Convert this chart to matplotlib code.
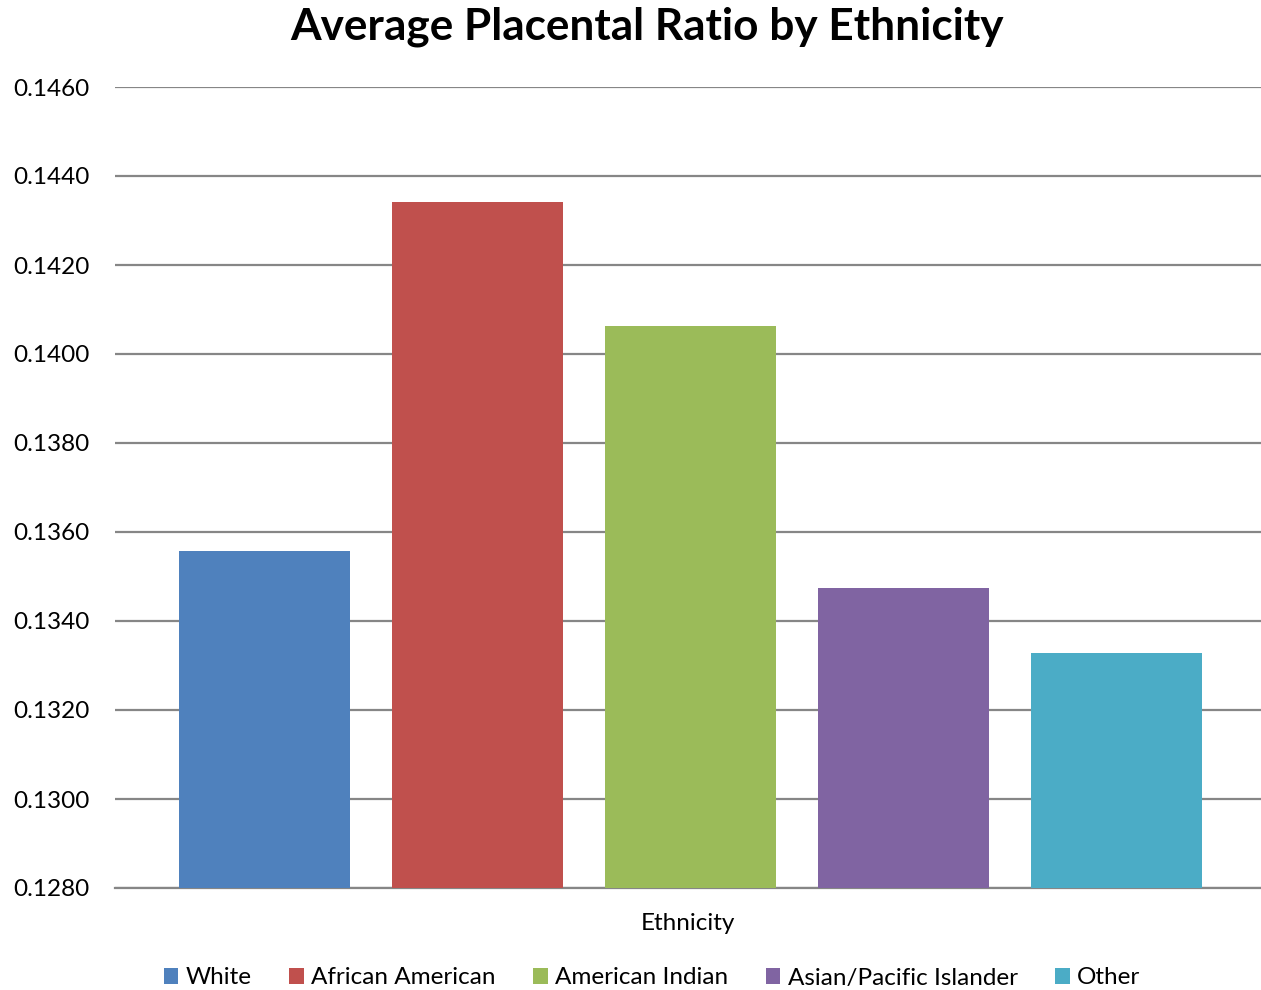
import matplotlib.pyplot as plt
from matplotlib.patches import Patch

plt.rcParams['font.family'] = ['Lato', 'DejaVu Sans']

# average placental ratio per ethnic group
groups = ['White', 'African American', 'American Indian', 'Asian/Pacific Islander', 'Other']
ratios = [0.13557, 0.14342, 0.14063, 0.13474, 0.13328]
colors = ['#4F81BD', '#C0504D', '#9BBB59', '#8064A2', '#4BACC6']
yticks = [0.128, 0.130, 0.132, 0.134, 0.136, 0.138, 0.140, 0.142, 0.144, 0.146]

fig = plt.figure(figsize=(12.61, 9.90), dpi=100)
ax = fig.add_axes([115 / 1261, 102 / 990, 1146 / 1261, 801 / 990])

x = list(range(len(groups)))
ax.bar(x, [r - 0.128 for r in ratios], bottom=0.128, width=0.803, color=colors, zorder=3)

ax.set_xlim(-0.702, 4.678)
ax.set_ylim(0.128, 0.146)
ax.set_yticks(yticks)
ax.set_yticklabels(['%.4f' % t for t in yticks], fontsize=17.5)
ax.set_xticks([])
ax.grid(axis='y', color='#868686', linewidth=1.6, zorder=0)
ax.tick_params(axis='y', length=0, pad=18)
for side in ['top', 'right', 'left']:
    ax.spines[side].set_visible(False)
ax.spines['bottom'].set_color('#868686')
ax.spines['bottom'].set_linewidth(1.6)

ax.set_xlabel('Ethnicity', fontsize=17.5, labelpad=18)
fig.text(647 / 1261, 1 - 27 / 990, 'Average Placental Ratio by Ethnicity',
         fontsize=31.8, fontweight='bold', ha='center', va='center')

handles = [Patch(facecolor=c, label=g) for g, c in zip(groups, colors)]
fig.legend(handles=handles, loc='center', bbox_to_anchor=(652 / 1261, 1 - 978 / 990),
           ncol=5, frameon=False, fontsize=17.5, handlelength=0.6, handleheight=0.6,
           handletextpad=0.3, columnspacing=1.55)

fig.savefig('out.png', dpi=100)
